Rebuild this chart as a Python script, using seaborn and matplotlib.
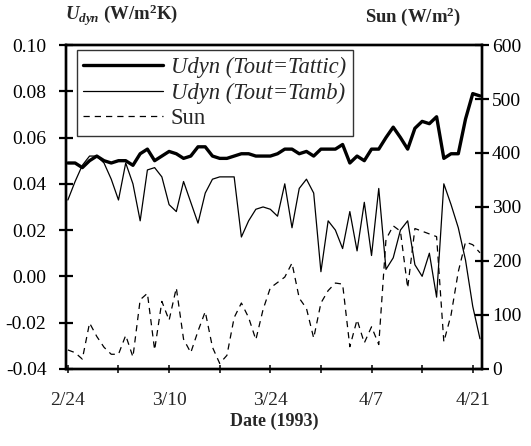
import numpy as np
import pandas as pd
import matplotlib
matplotlib.use("Agg")
import matplotlib.pyplot as plt
from matplotlib.ticker import MultipleLocator, FixedLocator
import seaborn as sns

# ---- data ----
day = np.arange(58)  # days after 1993-02-24
tick_days = [0, 14, 28, 42, 56]
tick_labels = ["2/24", "3/10", "3/24", "4/7", "4/21"]

udyn_attic = [0.049, 0.049, 0.047, 0.050, 0.052, 0.050, 0.049, 0.050, 0.050, 0.048,
              0.053, 0.055, 0.050, 0.052, 0.054, 0.053, 0.051, 0.052, 0.056, 0.056,
              0.052, 0.051, 0.051, 0.052, 0.053, 0.053, 0.052, 0.052, 0.052, 0.053,
              0.055, 0.055, 0.053, 0.054, 0.052, 0.055, 0.055, 0.055, 0.057, 0.049,
              0.052, 0.050, 0.055, 0.055, 0.060, 0.0645, 0.060, 0.055, 0.064, 0.067,
              0.066, 0.069, 0.051, 0.053, 0.053, 0.068, 0.079, 0.078]

udyn_amb = [0.033, 0.041, 0.048, 0.052, 0.052, 0.049, 0.042, 0.033, 0.049, 0.040,
            0.024, 0.046, 0.047, 0.043, 0.031, 0.028, 0.041, 0.032, 0.023, 0.036,
            0.042, 0.043, 0.043, 0.043, 0.017, 0.024, 0.029, 0.030, 0.029, 0.026,
            0.040, 0.021, 0.038, 0.042, 0.036, 0.002, 0.024, 0.020, 0.012, 0.028,
            0.011, 0.032, 0.009, 0.038, 0.003, 0.008, 0.020, 0.024, 0.005, 0.000,
            0.010, -0.009, 0.040, 0.031, 0.021, 0.007, -0.013, -0.027]

sun = [35, 30, 18, 85, 60, 40, 27, 27, 62, 22,
       128, 140, 35, 125, 90, 150, 55, 30, 70, 106,
       40, 10, 25, 95, 122, 95, 54, 110, 150, 160,
       170, 196, 131, 112, 57, 122, 145, 159, 157, 41,
       91, 48, 78, 45, 240, 265, 255, 150, 260, 255,
       250, 245, 50, 100, 180, 235, 230, 215]

df = pd.DataFrame({"day": day, "attic": udyn_attic, "amb": udyn_amb, "sun": sun})

# ---- style ----
sns.set_style("ticks")
plt.rcParams["font.family"] = ["Liberation Serif", "DejaVu Serif"]
plt.rcParams["axes.unicode_minus"] = False
plt.rcParams["mathtext.fontset"] = "custom"
plt.rcParams["mathtext.rm"] = "Liberation Serif:bold"
plt.rcParams["mathtext.it"] = "Liberation Serif:italic:bold"
plt.rcParams["mathtext.bf"] = "Liberation Serif:bold"

fig = plt.figure(figsize=(5.31, 4.46), dpi=100)
ax = fig.add_axes([0.124, 0.173, 0.784, 0.726])
ax2 = ax.twinx()

sns.lineplot(data=df, x="day", y="attic", ax=ax, color="black", linewidth=2.4,
             label="Udyn (Tout=Tattic)", legend=False)
sns.lineplot(data=df, x="day", y="amb", ax=ax, color="black", linewidth=0.9,
             label="Udyn (Tout=Tamb)", legend=False)
sns.lineplot(data=df, x="day", y="sun", ax=ax2, color="black", linewidth=0.9,
             label="Sun", legend=False, dashes=False)
ax2.lines[0].set_dashes([5, 4])

ax.set_xlim(-0.28, 57.3)
ax.set_ylim(-0.04, 0.10)
ax2.set_ylim(0, 600)

ax.yaxis.set_major_locator(MultipleLocator(0.02))
ax.yaxis.set_major_formatter(matplotlib.ticker.FormatStrFormatter("%.2f"))
ax2.yaxis.set_major_locator(MultipleLocator(100))
ax.xaxis.set_major_locator(FixedLocator(tick_days))
ax.set_xticklabels(tick_labels)
ax.xaxis.set_minor_locator(FixedLocator([7, 21, 35, 49]))

for a in (ax, ax2):
    a.tick_params(axis="y", direction="inout", length=10, width=1.6, labelsize=14, colors="black")
    for s in a.spines.values():
        s.set_color("black")
        s.set_linewidth(1.7)
ax.tick_params(axis="x", which="both", direction="inout", length=6, width=1.3,
               labelsize=14, pad=14)
ax.tick_params(axis="y", pad=9)
ax2.tick_params(axis="y", pad=2)
ax.set_xlabel("Date (1993)", fontsize=13, fontweight="bold", labelpad=2)
ax.set_ylabel("")
ax2.set_ylabel("")

fig.text(0.122, 0.937, r"$U_{dyn}$ (W/m$^{2}$K)", fontsize=13.5, fontweight="bold",
         ha="left", va="bottom")
fig.text(0.868, 0.937, r"Sun (W/m$^{2}$)", fontsize=13.5, fontweight="bold",
         ha="right", va="bottom")

handles = ax.get_lines()[:2] + ax2.get_lines()[:1]
labels = ["Udyn (Tout=Tattic)", "Udyn (Tout=Tamb)", "Sun"]
leg = ax2.legend(handles, labels, loc="upper left", bbox_to_anchor=(0.026, 0.985),
                 borderaxespad=0, fontsize=16.3, handlelength=3.5, handletextpad=0.35,
                 labelspacing=0.2, frameon=True, fancybox=False, borderpad=0.3)
leg.get_frame().set_edgecolor("black")
leg.get_frame().set_linewidth(1.0)
for t in leg.get_texts()[:2]:
    t.set_fontstyle("italic")

fig.savefig("out.png", dpi=100)
